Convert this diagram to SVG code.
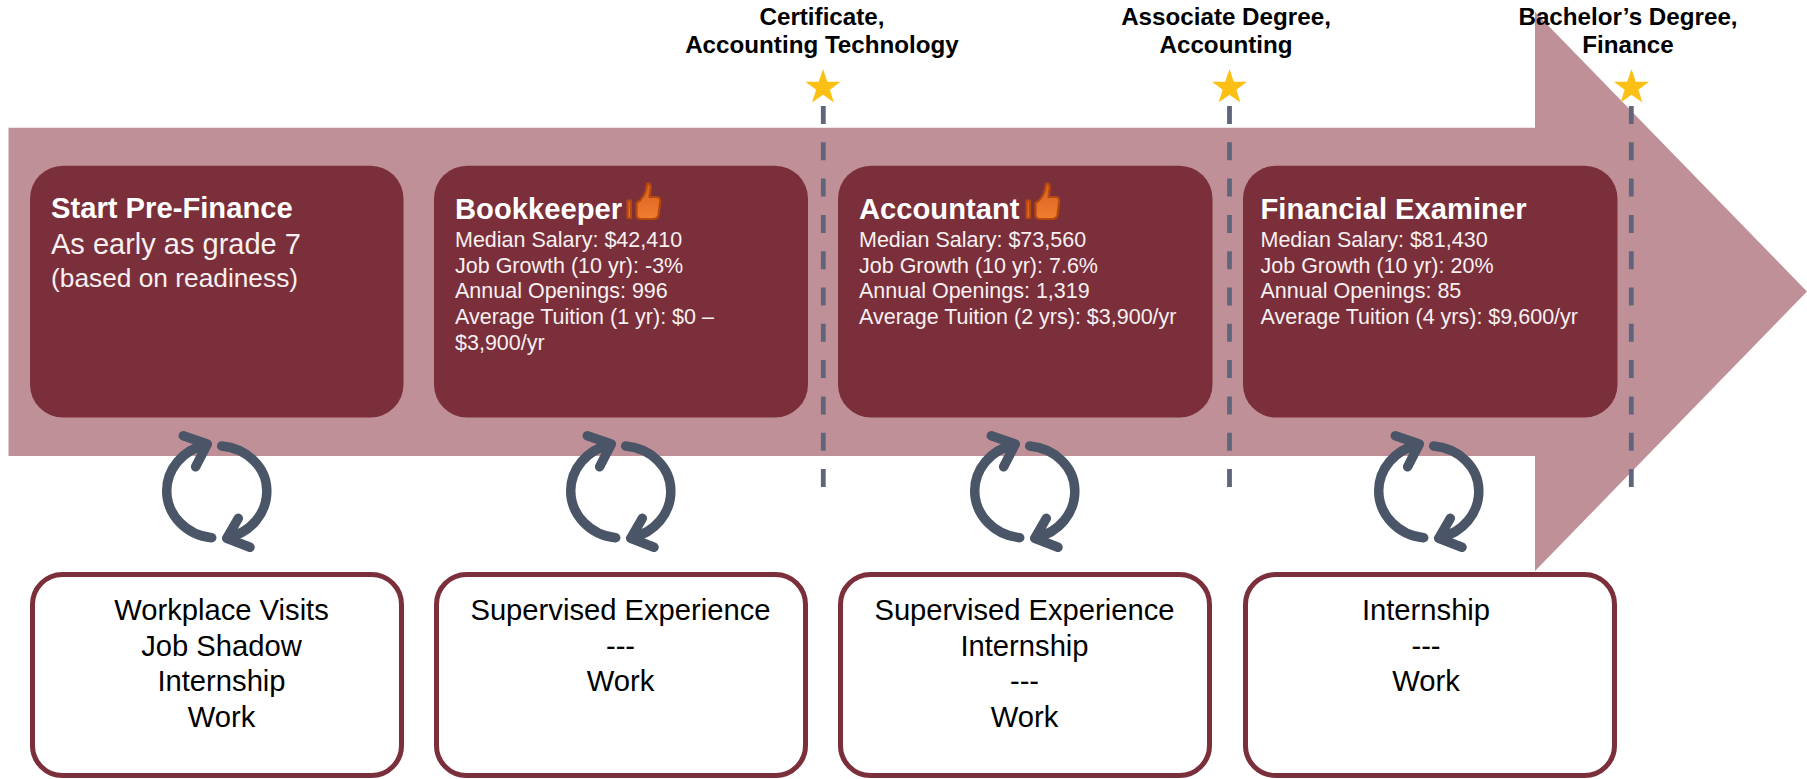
<svg xmlns="http://www.w3.org/2000/svg" width="1807" height="779" viewBox="0 0 1807 779">
<style>
text{font-family:"Liberation Sans",Arial,sans-serif}
.card{fill:#7a2f3b}
.out{fill:#fff;stroke:#7a2f3b;stroke-width:5}
.t{font-size:29.200px;font-weight:700;fill:#fff}
.d{font-size:21.500px;fill:#f7eff0}
.w{font-size:29.200px;fill:#000;text-anchor:middle}
.l{font-size:24.200px;font-weight:700;fill:#000;text-anchor:middle}
.dash{stroke:#5f667c;stroke-width:4.800;stroke-dasharray:18 18.300;fill:none}
.cyc{fill:none;stroke:#4a5568;stroke-width:9.500;stroke-linecap:round;stroke-linejoin:round}
.star{fill:#fcc015}
.tb{stroke:#b5480e;stroke-width:2.200;fill:url(#th);stroke-linejoin:round}
</style>
<defs>
<linearGradient id="th" x1="0" y1="0" x2="0" y2="1"><stop offset="0" stop-color="#d9601f"/><stop offset="1" stop-color="#f07d30"/></linearGradient>
<g id="cycle" class="cyc"><path d="M211.700 537.700A50 47.500 0 0 1 166.700 490.700A50 47.500 0 0 1 205 445M183.300 435.700L207.300 444L195.700 466.700"/><path d="M221.700 446A50 45 0 0 1 266.800 490.700A50 47.500 0 0 1 228 537.500M250 547.300L226.700 538.300L238.300 518.300"/></g>
<path id="star" d="M0-18.500L4.300-5.800H17.600L6.900 2.200L10.900 15L0 7.200L-10.900 15L-6.900 2.200L-17.600-5.800H-4.300Z"/>
<g id="thumb"><path class="tb" d="M627.500 200.500H631V218H627.500Z"/><path class="tb" d="M636.500 203C642 200 646 194 647 184C650 182 651.500 186 650.500 190L649.500 197H657C660 197 660.500 200 660 203L658.500 215C658 218 656 219 653 219H641C638 219 636.500 217 636.500 215Z"/></g>
</defs>
<path id="arrow" fill="#bf9097" d="M8.500 127.700H1535V12L1807 291.500L1535 571V456H8.500Z"/>
<g id="connectors">
<path class="dash" d="M823.300 106V488"/>
<path class="dash" d="M1229.500 106V488"/>
<path class="dash" d="M1631.300 106V488"/>
</g>
<g id="milestone-certificate"><use href="#star" class="star" transform="translate(823 87.500)"/><text class="l" x="822" y="25">Certificate,</text><text class="l" x="822" y="53">Accounting Technology</text></g>
<g id="milestone-associate"><use href="#star" class="star" transform="translate(1229.500 87.500)"/><text class="l" x="1226" y="25">Associate Degree,</text><text class="l" x="1226" y="53">Accounting</text></g>
<g id="milestone-bachelor"><use href="#star" class="star" transform="translate(1631.500 87.500)"/><text class="l" x="1628" y="25">Bachelor’s Degree,</text><text class="l" x="1628" y="53">Finance</text></g>
<g id="card-start"><rect class="card" x="30" y="165.700" width="373.500" height="251.800" rx="33"/>
<text class="t" x="51" y="218">Start Pre-Finance</text>
<text x="51" y="254" font-size="29" fill="#f7eff0">As early as grade 7</text>
<text x="51" y="287" font-size="26.300" fill="#f7eff0">(based on readiness)</text></g>
<g id="card-bookkeeper"><rect class="card" x="434" y="165.700" width="374" height="251.800" rx="33"/>
<text class="t" x="455" y="219">Bookkeeper</text><use href="#thumb"/>
<text class="d" x="455" y="247">Median Salary: $42,410</text>
<text class="d" x="455" y="273">Job Growth (10 yr): -3%</text>
<text class="d" x="455" y="298">Annual Openings: 996</text>
<text class="d" x="455" y="324">Average Tuition (1 yr): $0 –</text>
<text class="d" x="455" y="350">$3,900/yr</text></g>
<g id="card-accountant"><rect class="card" x="838" y="165.700" width="374.500" height="251.800" rx="33"/>
<text class="t" x="859" y="219">Accountant</text><use href="#thumb" transform="translate(399 0)"/>
<text class="d" x="859" y="247">Median Salary: $73,560</text>
<text class="d" x="859" y="273">Job Growth (10 yr): 7.6%</text>
<text class="d" x="859" y="298">Annual Openings: 1,319</text>
<text class="d" x="859" y="324">Average Tuition (2 yrs): $3,900/yr</text></g>
<g id="card-examiner"><rect class="card" x="1243" y="165.700" width="374.500" height="251.800" rx="33"/>
<text class="t" x="1260.500" y="219">Financial Examiner</text>
<text class="d" x="1260.500" y="247">Median Salary: $81,430</text>
<text class="d" x="1260.500" y="273">Job Growth (10 yr): 20%</text>
<text class="d" x="1260.500" y="298">Annual Openings: 85</text>
<text class="d" x="1260.500" y="324">Average Tuition (4 yrs): $9,600/yr</text></g>
<g id="cycle-1"><use href="#cycle"/></g>
<g id="cycle-2"><use href="#cycle" transform="translate(404 0)"/></g>
<g id="cycle-3"><use href="#cycle" transform="translate(808 0)"/></g>
<g id="cycle-4"><use href="#cycle" transform="translate(1212 0)"/></g>
<g id="work-start"><rect class="out" x="32.500" y="574.500" width="369" height="201" rx="30"/>
<text class="w" x="221.500" y="620">Workplace Visits</text><text class="w" x="221.500" y="656">Job Shadow</text><text class="w" x="221.500" y="691">Internship</text><text class="w" x="221.500" y="727">Work</text></g>
<g id="work-bookkeeper"><rect class="out" x="436.500" y="574.500" width="369" height="201" rx="30"/>
<text class="w" x="620.500" y="620">Supervised Experience</text><text class="w" x="620.500" y="656">---</text><text class="w" x="620.500" y="691">Work</text></g>
<g id="work-accountant"><rect class="out" x="840.500" y="574.500" width="369" height="201" rx="30"/>
<text class="w" x="1024.500" y="620">Supervised Experience</text><text class="w" x="1024.500" y="656">Internship</text><text class="w" x="1024.500" y="691">---</text><text class="w" x="1024.500" y="727">Work</text></g>
<g id="work-examiner"><rect class="out" x="1245.500" y="574.500" width="369" height="201" rx="30"/>
<text class="w" x="1426" y="620">Internship</text><text class="w" x="1426" y="656">---</text><text class="w" x="1426" y="691">Work</text></g>
</svg>
